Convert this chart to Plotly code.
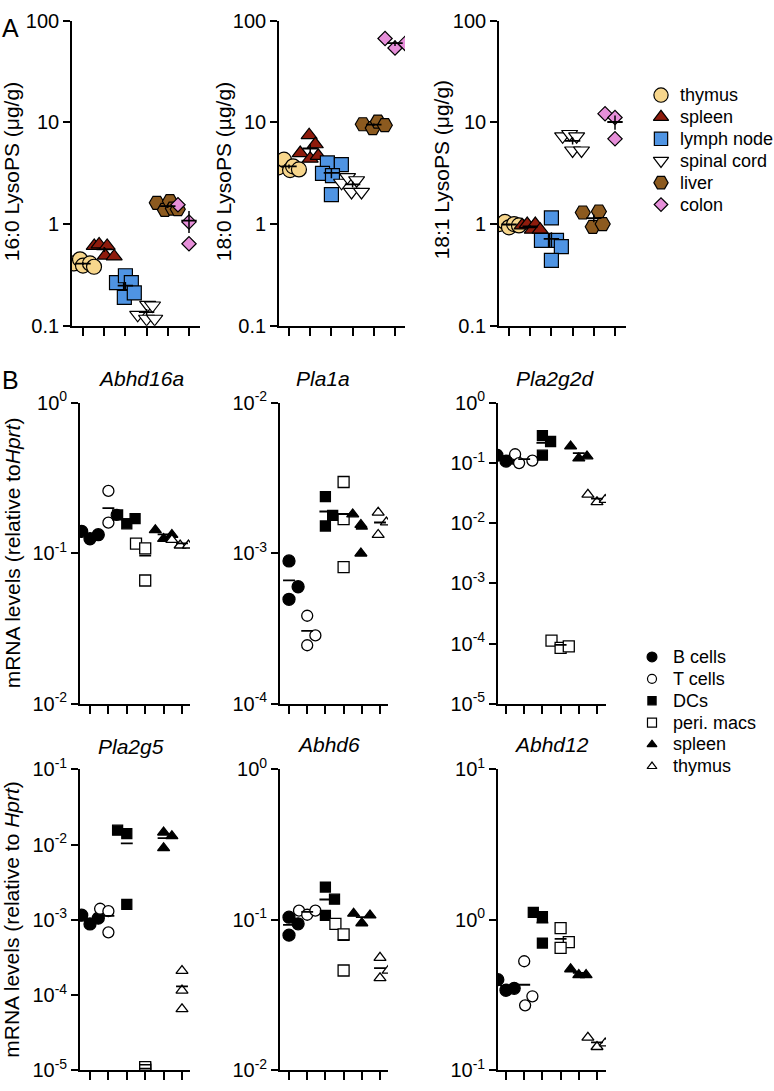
import numpy as np
import plotly.graph_objects as go

W, H = 774, 1091
FONT = "Liberation Sans, Arial, sans-serif"

# ---------------- data ----------------
tissue_names = ["thymus", "spleen", "lymph node", "spinal cord", "liver", "colon"]
cell_names = ["B cells", "T cells", "DCs", "peri. macs", "spleen", "thymus"]

lyso_ticks = [0.1, 1, 10, 100]
lyso_ticktext = ["0.1", "1", "10", "100"]

lyso_titles = ["16:0 LysoPS (μg/g)", "18:0 LysoPS (µg/g)", "18:1 LysoPS (μg/g)"]

lyso_16_0 = [
    [0.41, 0.45, 0.39, 0.41, 0.38],
    [0.61, 0.63, 0.61, 0.49, 0.48],
    [0.265, 0.31, 0.265, 0.19, 0.21],
    [0.128, 0.16, 0.117, 0.117, 0.158],
    [1.62, 1.38, 1.68, 1.42, 1.40],
    [1.55, 1.05, 0.64],
]
lyso_18_0 = [
    [3.6, 4.3, 3.4, 3.7, 3.45],
    [5.0, 7.5, 6.1, 4.4, 4.7],
    [4.0, 3.85, 3.15, 3.0, 1.95],
    [2.55, 2.9, 2.7, 2.07, 2.07],
    [9.6, 8.8, 10.2, 9.4],
    [67, 54, 60],
]
lyso_18_1 = [
    [1.0, 1.05, 0.93, 1.0, 0.97],
    [0.97, 1.0, 0.88, 1.0, 0.88],
    [1.15, 0.69, 0.69, 0.60, 0.44],
    [7.3, 7.7, 7.3, 5.3, 5.3],
    [1.3, 1.33, 0.94, 1.0],
    [12.2, 11.2, 6.9],
]

gene_titles = ["Abhd16a", "Pla1a", "Pla2g2d", "Pla2g5", "Abhd6", "Abhd12"]
gene_decades = [[-2, -1, 0], [-4, -3, -2], [-5, -4, -3, -2, -1, 0],
                [-5, -4, -3, -2, -1], [-2, -1, 0], [-1, 0, 1]]

abhd16a = [
    [0.14, 0.125, 0.133],
    [0.26, 0.16, 0.18],
    [0.18, 0.157, 0.17],
    [0.116, 0.108, 0.066],
    [0.143, 0.125, 0.133],
    [0.123, 0.113, 0.113],
]
pla1a = [
    [8.9e-4, 6.0e-4, 4.95e-4],
    [3.85e-4, 2.85e-4, 2.45e-4],
    [2.38e-3, 1.79e-3, 1.52e-3],
    [2.98e-3, 1.69e-3, 8.1e-4],
    [1.82e-3, 1.55e-3, 1.0e-3],
    [1.87e-3, 1.61e-3, 1.33e-3],
]
pla2g2d = [
    [0.135, 0.108, 0.12],
    [0.14, 0.10, 0.11],
    [0.285, 0.228, 0.135],
    [1.12e-4, 8.5e-5, 9.0e-5],
    [0.19, 0.12, 0.13],
    [0.030, 0.0225, 0.0245],
]
pla2g5 = [
    [1.15e-3, 8.8e-4, 1.05e-3],
    [1.4e-3, 1.3e-3, 6.8e-4],
    [1.55e-2, 1.4e-2, 1.6e-3],
    [1.05e-5, 1.1e-5, 1.0e-5],
    [1.45e-2, 1.3e-2, 9.0e-3],
    [2.1e-4, 1.15e-4, 6.5e-5],
]
abhd6 = [
    [0.104, 0.094, 0.079],
    [0.115, 0.108, 0.115],
    [0.165, 0.137, 0.107],
    [0.094, 0.080, 0.046],
    [0.110, 0.095, 0.107],
    [0.056, 0.046, 0.041],
]
abhd12 = [
    [0.40, 0.34, 0.35],
    [0.53, 0.31, 0.27],
    [1.12, 1.05, 0.70],
    [0.88, 0.71, 0.65],
    [0.47, 0.43, 0.43],
    [0.165, 0.143, 0.151],
]

# horizontal scatter of points within each group (category units)
jit_16_0 = [[-0.42, -0.14, 0.0, 0.33, 0.52], [-0.47, -0.24, 0.14, 0.05, 0.47],
            [-0.42, 0.0, 0.28, -0.05, 0.42], [-0.42, 0.05, 0.0, 0.38, 0.28],
            [-0.52, -0.14, 0.1, 0.24, 0.47], [-0.52, 0.0, 0.0]]
jit_18_0 = [[-0.52, -0.24, 0.05, 0.19, 0.47], [-0.47, -0.05, 0.24, 0.0, 0.38],
            [-0.19, 0.47, -0.42, 0.05, 0.0], [-0.52, -0.24, 0.19, -0.05, 0.42],
            [-0.52, -0.05, 0.19, 0.52], [-0.47, 0.0, 0.47]]
jit_18_1 = [[-0.47, -0.19, 0.0, 0.24, 0.47], [-0.38, -0.14, 0.1, 0.24, 0.47],
            [0.0, -0.47, 0.24, 0.47, 0.0], [-0.47, -0.14, 0.19, 0.0, 0.42],
            [-0.52, 0.24, -0.05, 0.42], [-0.47, 0.0, 0.0]]
jit_abhd16a = [[-0.45, 0.0, 0.45], [0.0, 0.0, 0.45], [-0.5, 0.0, 0.45],
               [-0.5, 0.0, 0.0], [-0.45, 0.0, 0.45], [-0.55, -0.1, 0.35]]
jit_pla1a = [[0.0, 0.5, 0.0], [0.0, 0.45, 0.0], [0.0, 0.4, 0.0],
             [0.0, 0.0, 0.0], [-0.5, -0.05, -0.05], [-0.1, 0.35, -0.1]]
jit_pla2g2d = [[-0.5, 0.0, 0.45], [-0.5, -0.28, 0.45], [0.0, 0.45, 0.0],
               [-0.5, 0.0, 0.45], [-0.45, 0.0, 0.45], [-0.5, 0.0, 0.45]]
jit_pla2g5 = [[-0.45, 0.0, 0.45], [-0.45, 0.0, 0.0], [-0.5, 0.0, 0.0],
              [0.0, 0.0, 0.0], [0.0, 0.45, 0.0], [0.0, 0.0, 0.0]]
jit_abhd6 = [[0.0, 0.5, 0.0], [-0.45, 0.0, 0.45], [0.0, 0.5, 0.0],
             [-0.45, 0.0, 0.0], [-0.45, 0.0, 0.45], [0.0, 0.45, 0.0]]
jit_abhd12 = [[-0.45, 0.0, 0.45], [0.0, 0.45, 0.05], [-0.5, 0.0, 0.0],
              [0.0, 0.45, 0.0], [-0.45, 0.0, 0.4], [-0.5, 0.0, 0.45]]

# ---------------- styles / layout ----------------
tissue_style = [
    dict(symbol="circle", color="#F7D68C", size=15),
    dict(symbol="triangle-up", color="#8E1B0C", size=14),
    dict(symbol="square", color="#4F94E3", size=14),
    dict(symbol="triangle-down", color="#FFFFFF", size=14),
    dict(symbol="hexagon2", color="#8C5A1F", size=15),
    dict(symbol="diamond", color="#E68FD9", size=11),
]
cell_style = [
    dict(symbol="circle", color="black", size=12),
    dict(symbol="circle", color="white", size=11),
    dict(symbol="square", color="black", size=10),
    dict(symbol="square", color="white", size=11),
    dict(symbol="triangle-up", color="black", size=10.5),
    dict(symbol="triangle-up", color="white", size=10.5),
]

# pixel geometry: axis x-start, x-end, first tick, last tick, y-top, y-bottom
panels = [
    dict(px=(72, 200, 83, 189), py=(7, 319), kind="A", data=lyso_16_0, jit=jit_16_0),
    dict(px=(279, 405, 289, 395), py=(7, 319), kind="A", data=lyso_18_0, jit=jit_18_0),
    dict(px=(499, 626, 509, 615), py=(7, 319), kind="A", data=lyso_18_1, jit=jit_18_1),
    dict(px=(80, 190, 90, 182), py=(398, 706), kind="B", data=abhd16a, jit=jit_abhd16a, g=0),
    dict(px=(280, 388, 289, 380), py=(398, 706), kind="B", data=pla1a, jit=jit_pla1a, g=1),
    dict(px=(498, 606, 506, 597), py=(398, 706), kind="B", data=pla2g2d, jit=jit_pla2g2d, g=2),
    dict(px=(80, 190, 90, 182), py=(773, 1081), kind="B", data=pla2g5, jit=jit_pla2g5, g=3),
    dict(px=(280, 388, 289, 380), py=(773, 1081), kind="B", data=abhd6, jit=jit_abhd6, g=4),
    dict(px=(498, 606, 506, 597), py=(773, 1081), kind="B", data=abhd12, jit=jit_abhd12, g=5),
]

fig = go.Figure()
layout = dict(
    width=W, height=H, autosize=False,
    margin=dict(l=0, r=0, t=0, b=0),
    paper_bgcolor="white", plot_bgcolor="rgba(0,0,0,0)",
    showlegend=False,
    font=dict(family=FONT, color="black", size=20),
)
LW = 1.7

for i, p in enumerate(panels, start=1):
    xk = "xaxis" if i == 1 else f"xaxis{i}"
    yk = "yaxis" if i == 1 else f"yaxis{i}"
    xr = "x" if i == 1 else f"x{i}"
    yr = "y" if i == 1 else f"y{i}"
    x0, x1, t0, t1 = p["px"]
    sp = (t1 - t0) / 5.0
    layout[xk] = dict(
        domain=[x0 / W, x1 / W], range=[(x0 - t0) / sp, (x1 - t0) / sp],
        anchor=yr, showline=True, linecolor="black", linewidth=LW,
        ticks="outside", ticklen=8, tickwidth=LW, tickcolor="black",
        tickvals=list(range(6)), showticklabels=False,
        showgrid=False, zeroline=False, fixedrange=True,
    )
    ytop, ybot = p["py"]
    if p["kind"] == "A":
        yrange = [float(np.log10(lyso_ticks[0])), float(np.log10(lyso_ticks[-1]))]
        tv, tt = lyso_ticks, lyso_ticktext
    else:
        dec = gene_decades[p["g"]]
        yrange = [dec[0], dec[-1]]
        tv = [10.0 ** k for k in dec]
        tt = [f"10<sup>{k}</sup>" for k in dec]
    layout[yk] = dict(
        domain=[1 - ybot / H, 1 - ytop / H], type="log", range=yrange,
        anchor=xr, showline=True, linecolor="black", linewidth=LW,
        ticks="outside", ticklen=7, tickwidth=LW, tickcolor="black",
        tickvals=tv, ticktext=tt, tickfont=dict(size=20, family=FONT),
        showgrid=False, zeroline=False, fixedrange=True,
    )

    styles = tissue_style if p["kind"] == "A" else cell_style
    for gi, (vals, jit) in enumerate(zip(p["data"], p["jit"])):
        st = styles[gi]
        fig.add_trace(go.Scatter(
            x=[gi + j for j in jit], y=vals, mode="markers",
            xaxis=xr, yaxis=yr, hoverinfo="skip",
            marker=dict(symbol=st["symbol"], color=st["color"], size=st["size"],
                        line=dict(color="black", width=1.2 if p["kind"] == "A" else 1.3)),
        ))
    # group means (and SEM for panel A)
    for gi, vals in enumerate(p["data"]):
        v = np.array(vals, dtype=float)
        m = float(v.mean())
        if p["kind"] == "A":
            sem = float(v.std(ddof=1) / np.sqrt(len(v)))
            fig.add_trace(go.Scatter(
                x=[gi], y=[m], mode="markers", xaxis=xr, yaxis=yr, hoverinfo="skip",
                marker=dict(symbol="line-ew", size=11, color="black",
                            line=dict(color="black", width=1.8)),
                error_y=dict(type="data", array=[sem], visible=True, color="black",
                             thickness=1.5, width=0),
            ))
        else:
            fig.add_trace(go.Scatter(
                x=[gi], y=[m], mode="markers", xaxis=xr, yaxis=yr, hoverinfo="skip",
                marker=dict(symbol="line-ew", size=8.5, color="black",
                            line=dict(color="black", width=1.8)),
            ))

# hidden pixel-space axis for the legends
layout["xaxis10"] = dict(domain=[0, 1], range=[0, W], visible=False, fixedrange=True, anchor="y10")
layout["yaxis10"] = dict(domain=[0, 1], range=[H, 0], visible=False, fixedrange=True, anchor="x10")

annotations = []


def add_legend(names, styles, mx, tx, y0, dy, size_scale):
    for k, (nm, st) in enumerate(zip(names, styles)):
        yy = y0 + k * dy
        fig.add_trace(go.Scatter(
            x=[mx], y=[yy], mode="markers", xaxis="x10", yaxis="y10", hoverinfo="skip",
            marker=dict(symbol=st["symbol"], color=st["color"],
                        size=st["size"] * size_scale,
                        line=dict(color="black", width=1.2)),
        ))
        annotations.append(dict(
            x=tx / W, y=1 - yy / H, xref="paper", yref="paper", text=nm,
            showarrow=False, xanchor="left", yanchor="middle",
            font=dict(size=18, family=FONT, color="black"),
        ))


add_legend(tissue_names, tissue_style, 661, 678, 83, 22.4, 0.95)
add_legend(cell_names, cell_style, 652, 671, 658, 22.4, 0.82)

# panel letters
for txt, x, y in [("A", 10, 14), ("B", 10, 375)]:
    annotations.append(dict(x=x / W, y=1 - y / H, xref="paper", yref="paper", text=txt,
                            showarrow=False, xanchor="center", yanchor="middle",
                            font=dict(size=25, family=FONT, color="black")))

# y-axis titles
for txt, x, y in [(lyso_titles[0], 11, 162), (lyso_titles[1], 223, 162), (lyso_titles[2], 441, 160),
                  ("mRNA levels (relative to<i>Hprt</i>)", 12, 552),
                  ("mRNA levels (relative to <i>Hprt</i>)", 12, 927)]:
    annotations.append(dict(x=x / W, y=1 - y / H, xref="paper", yref="paper", text=txt,
                            textangle=-90, showarrow=False, xanchor="center", yanchor="middle",
                            font=dict(size=21, family=FONT, color="black")))

# gene titles
for txt, x, y in zip(gene_titles, [141, 323, 555, 131, 328, 551], [373, 373, 373, 750, 748, 748]):
    annotations.append(dict(x=x / W, y=1 - y / H, xref="paper", yref="paper",
                            text=f"<i>{txt}</i>", showarrow=False,
                            xanchor="center", yanchor="middle",
                            font=dict(size=21, family=FONT, color="black")))

layout["annotations"] = annotations
fig.update_layout(**layout)
fig.write_html("out.html", config={"displayModeBar": False},
               post_script="document.body.style.margin='0';document.body.style.overflow='hidden';")
